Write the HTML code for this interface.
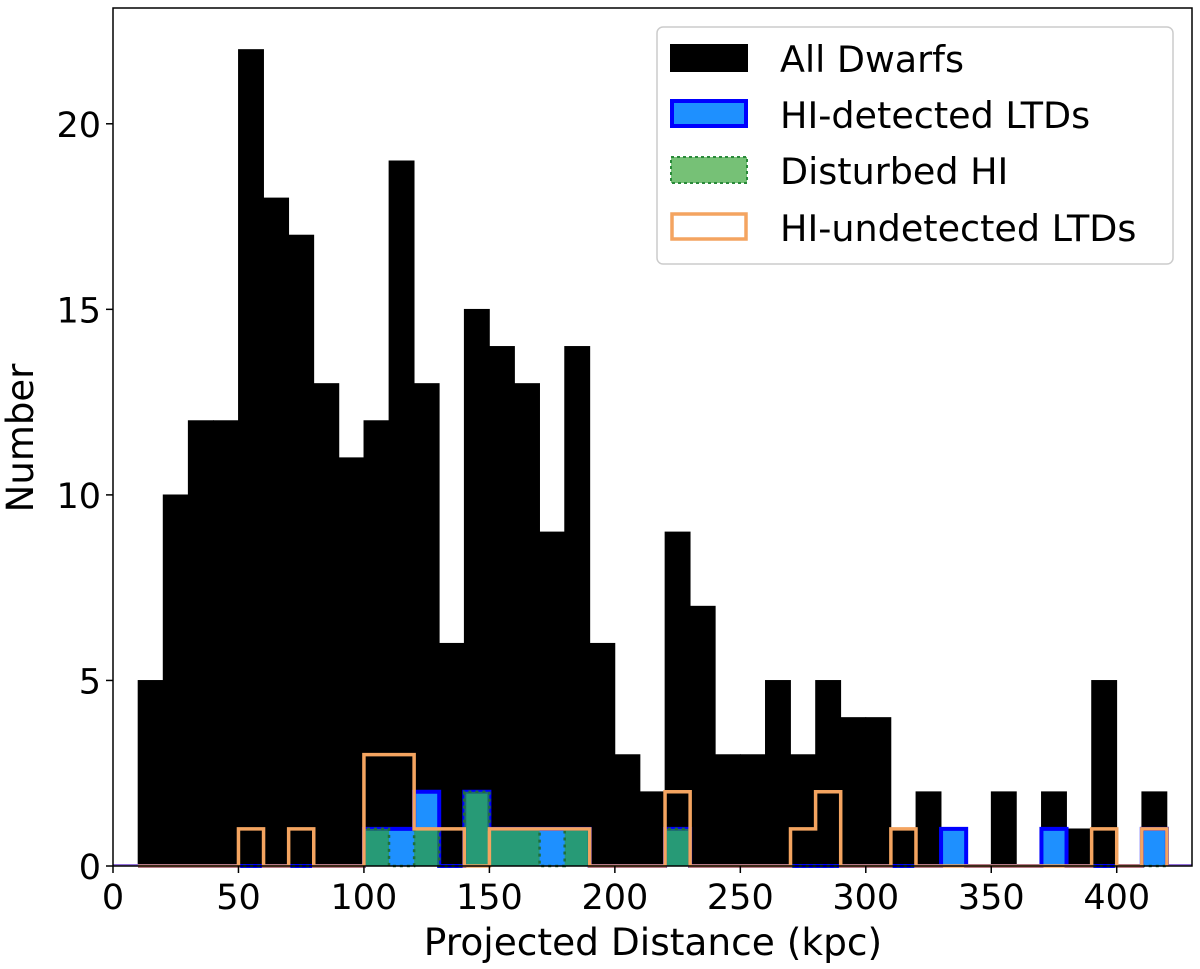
<!DOCTYPE html>
<html><head><meta charset="utf-8"><style>
body{margin:0;background:#fff;}
svg text{font-family:"DejaVu Sans","Liberation Sans",sans-serif;fill:#000;}
</style></head><body>
<svg id="chart" width="1200" height="964" xmlns="http://www.w3.org/2000/svg">
<g id="marks"></g>
<g id="axes"></g>
<g id="legend">
 <rect x="657" y="27" width="516" height="237" rx="6" fill="#fff" fill-opacity="0.85" stroke="#ccc" stroke-width="1.5"/>
 <g><rect x="670" y="44" width="78" height="28" fill="#000"/><text x="780" y="72" font-size="36.5">All Dwarfs</text></g>
 <g><rect x="672" y="101" width="74" height="25" fill="#1e90ff" stroke="#0000ff" stroke-width="4"/><text x="780" y="128" font-size="36.5">HI-detected LTDs</text></g>
 <g><rect x="671" y="157" width="76" height="26" fill="#2ca02c" fill-opacity="0.65" stroke="#2a8a3a" stroke-width="2" stroke-dasharray="3,3"/><text x="780" y="184" font-size="36.5">Disturbed HI</text></g>
 <g><rect x="672" y="214" width="74" height="25" fill="none" stroke="#f4a460" stroke-width="3.5"/><text x="780" y="241" font-size="36.5">HI-undetected LTDs</text></g>
</g>
</svg>
<script>
const binStarts=[10,20,30,40,50,60,70,80,90,100,110,120,130,140,150,160,170,180,190,200,210,220,230,240,250,260,270,280,290,300,310,320,330,340,350,360,370,380,390,400,410];
const allDwarfs=[5,10,12,12,22,18,17,13,11,12,19,13,6,15,14,13,9,14,6,3,2,9,7,3,3,5,3,5,4,4,1,2,1,0,2,0,2,1,5,0,2];
const hiDetected=[0,0,0,0,0,0,0,0,0,1,1,2,0,2,1,1,1,1,0,0,0,1,0,0,0,0,0,0,0,0,0,0,1,0,0,0,1,0,0,0,1];
const disturbed=[0,0,0,0,0,0,0,0,0,1,0,1,0,2,1,1,0,1,0,0,0,1,0,0,0,0,0,0,0,0,0,0,0,0,0,0,0,0,0,0,0];
const hiUndetected=[0,0,0,0,1,0,1,0,0,3,3,1,1,0,1,1,1,1,0,0,0,2,0,0,0,0,1,2,0,0,1,0,0,0,0,0,0,0,1,0,1];
const binWidth=10;
const xTicks=[0,50,100,150,200,250,300,350,400];
const yTicks=[0,5,10,15,20];
const X0=113,X1=1192,Y0=866,Y1=8,xMax=430,yMax=23.12;
const sx=v=>X0+v/xMax*(X1-X0);
const sy=v=>Y0-v/yMax*(Y0-Y1);
const NS="http://www.w3.org/2000/svg";
const marks=document.getElementById('marks'),axes=document.getElementById('axes');
function mk(tag,attrs,parent){const e=document.createElementNS(NS,tag);for(const k in attrs)e.setAttribute(k,attrs[k]);parent.appendChild(e);return e;}
binStarts.forEach((b,i)=>{if(!allDwarfs[i])return;
 const r=mk('rect',{x:sx(b),y:sy(allDwarfs[i]),width:sx(b+binWidth)-sx(b),height:sy(0)-sy(allDwarfs[i]),fill:'#000',stroke:'#000','stroke-width':0.8},marks);
 
 
});
function stepPath(vals){let d='M'+sx(binStarts[0])+','+sy(0);
 binStarts.forEach((b,i)=>{d+=' L'+sx(b)+','+sy(vals[i])+' L'+sx(b+binWidth)+','+sy(vals[i]);});
 d+=' L'+sx(binStarts[binStarts.length-1]+binWidth)+','+sy(0);return d;}
const base=mk('line',{x1:sx(0),x2:sx(xMax),y1:sy(0)-1,y2:sy(0)-1,stroke:'#9370db','stroke-width':2},marks);


const pb=mk('path',{d:stepPath(hiDetected),fill:'#1e90ff',stroke:'#0000ff','stroke-width':4,'stroke-linejoin':'miter'},marks);


const pg=mk('path',{d:stepPath(disturbed),fill:'#2ca02c','fill-opacity':0.65,stroke:'#1f6e3a','stroke-width':2.5,'stroke-dasharray':'3,4'},marks);


const po=mk('path',{d:stepPath(hiUndetected),fill:'none',stroke:'#f4a460','stroke-width':3.5},marks);


const frame=mk('rect',{x:X0,y:Y1,width:X1-X0,height:Y0-Y1,fill:'none',stroke:'#000','stroke-width':1.5},axes);


xTicks.forEach(t=>{mk('line',{x1:sx(t),x2:sx(t),y1:Y0,y2:Y0+7,stroke:'#000','stroke-width':1.5},axes);
 const tx=mk('text',{x:sx(t),y:Y0+43,'font-size':35,'text-anchor':'middle'},axes);tx.textContent=t;
 
 });
yTicks.forEach(t=>{mk('line',{x1:X0-7,x2:X0,y1:sy(t),y2:sy(t),stroke:'#000','stroke-width':1.5},axes);
 const tx=mk('text',{x:X0-12,y:sy(t)+13,'font-size':35,'text-anchor':'end'},axes);tx.textContent=t;
 
 });
const xl=mk('text',{x:653,y:955,'font-size':37.5,'text-anchor':'middle'},axes);xl.textContent='Projected Distance (kpc)';


const yl=mk('text',{x:0,y:0,'font-size':37,'text-anchor':'middle',transform:'translate(33,438) rotate(-90)'},axes);yl.textContent='Number';


</script>
</body></html>
